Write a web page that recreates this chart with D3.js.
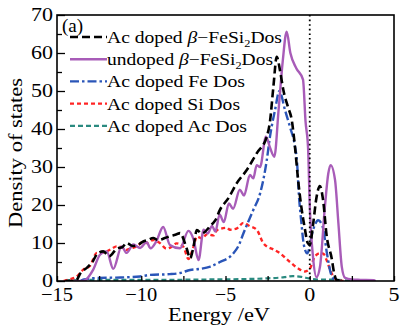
<!DOCTYPE html>
<html><head><meta charset="utf-8">
<script src="https://cdn.jsdelivr.net/npm/d3@7"></script>
<style>body{margin:0;background:#fff}svg text{font-family:"Liberation Serif","DejaVu Serif","Times New Roman",serif;fill:#000}</style>
</head><body>
<svg id="c" width="400" height="326"></svg>
<script>
const xTicks = [-15, -10, -5, 0, 5];
const yTicks = [0, 10, 20, 30, 40, 50, 60, 70];
const seriesNames = ["Ac doped β−FeSi₂Dos", "undoped β−FeSi₂Dos", "Ac doped Fe Dos", "Ac doped Si Dos", "Ac doped Ac Dos"];

const acTotal = [[-14.5,0],[-13.9,0],[-13.6,2.1],[-13.2,3.6],[-12.9,5],[-12.6,7.2],[-12.25,7.8],[-11.9,6.5],[-11.46,8.5],[-11.1,9],[-10.87,10],[-10.5,9.2],[-10.2,9.5],[-9.88,10.4],[-9.6,10.8],[-9.29,11.3],[-9,10.8],[-8.6,11.3],[-8.3,11.8],[-7.9,12.3],[-7.7,12.6],[-7.3,8.5],[-7.1,6],[-6.9,9],[-6.7,13.4],[-6.4,12.5],[-5.9,14.5],[-5.6,16],[-5.33,18.7],[-4.8,22],[-4.34,25.7],[-3.74,29.2],[-3.15,33.6],[-2.55,38],[-2.36,42],[-2.16,51],[-1.96,59],[-1.75,55],[-1.57,50.3],[-1.3,45.9],[-1.07,42.4],[-0.87,35],[-0.7,27],[-0.5,19.5],[-0.3,14],[-0.12,10],[0.0,9.5],[0.2,15],[0.4,22],[0.6,25],[0.8,21],[1.0,12],[1.3,6],[1.45,2],[1.6,0.3],[2,0]];
const undoped = [[-14,0],[-13.45,0],[-12.85,3],[-12.45,6.9],[-12.05,7.8],[-11.66,3.2],[-11.16,9.1],[-10.87,7.4],[-10.47,9.6],[-10.07,8.7],[-9.68,10.2],[-9.45,8.6],[-9.1,10.5],[-8.7,14.2],[-8.3,9.5],[-7.7,8.6],[-7.2,13.2],[-6.9,11],[-6.6,5.5],[-6.3,13.5],[-6.05,12.5],[-5.8,14.5],[-5.6,13],[-5.35,17.5],[-5.1,15.5],[-4.8,20.4],[-4.55,19],[-4.15,24],[-3.9,22.5],[-3.55,27.9],[-3.35,27],[-3.15,30.5],[-2.95,30],[-2.6,38],[-2.35,35],[-2.1,32.7],[-1.85,45],[-1.6,58],[-1.37,65.6],[-1.15,60],[-0.8,56],[-0.4,53],[-0.25,42],[-0.1,35],[0.0,20],[0.2,6],[0.4,1],[0.61,3.8],[0.9,19.6],[1.1,28.3],[1.24,30.5],[1.5,26.6],[1.7,15.2],[1.9,3.8],[2.1,0.8],[2.5,0.4],[3,0.3],[3.8,0.2],[3.9,0]];
const feDos = [[-13.6,0],[-13.4,0.4],[-12.6,0.8],[-11.5,0.9],[-10.07,1.2],[-9.48,1.6],[-8.3,1.8],[-7.7,2.1],[-7.1,2.9],[-6.5,3.2],[-5.9,3.8],[-5.33,5],[-4.73,6.4],[-4.53,7.3],[-4.2,9.5],[-3.94,12.5],[-3.35,18.7],[-2.95,23],[-2.55,31.8],[-2.36,38],[-2.06,45],[-1.8,50],[-1.47,45],[-1.17,40.5],[-0.9,36],[-0.75,31],[-0.65,23],[-0.5,15.5],[-0.35,9.5],[-0.15,7.3],[0.2,13.5],[0.5,16],[0.75,14.5],[1.05,6.5],[1.25,2],[1.5,0.3],[1.8,0]];
const siDos = [[-14.6,0],[-14.2,0.5],[-13.83,1.2],[-13.44,3],[-13.04,4],[-12.64,7.4],[-12.3,7.5],[-12.05,7.8],[-11.75,8.5],[-11.46,9.1],[-11.1,8.8],[-10.87,8.2],[-10.6,8.6],[-10.27,9.1],[-9.88,10.3],[-9.68,10],[-9.29,10.8],[-8.9,10],[-8.5,8.5],[-8.2,9],[-7.9,9.9],[-7.5,9],[-7.2,5.8],[-6.9,9],[-6.7,11.7],[-6.4,11.2],[-6.1,12.3],[-5.72,12],[-5.5,13.4],[-4.93,14],[-4.73,13.5],[-4.34,13.8],[-3.94,15.3],[-3.55,14.4],[-3.15,13.5],[-2.76,10],[-2.55,9.1],[-2.16,8.3],[-1.77,7.3],[-1.17,5],[-0.58,3],[-0.28,2.5],[0.0,3.2],[0.31,6.5],[0.6,7.3],[0.8,7.2],[1.0,5.5],[1.2,3],[1.4,1.2],[1.6,0.2],[2,0]];
const acDos = [[-14.5,0.2],[-12,0.3],[-9,0.3],[-6,0.4],[-4,0.5],[-2.5,0.7],[-1.5,1.0],[-1,1.3],[-0.5,1.1],[0,0.6],[0.5,0.4],[1,0.4],[1.5,0.3],[2,0.2],[2.5,0]];

const series = [acTotal, undoped, feDos, siDos, acDos];
const colors = ["#000000", "#a85cb8", "#2a55b8", "#ff2424", "#2a8a80"];
const dashes = ["8,4", null, "9,3,2.5,3", "4,3", "5,3"];
const widths = [2.6, 2.4, 2.4, 2.4, 2.2];

const svg = d3.select("#c");
const L = 57, R = 394, T = 15, B = 281;
const x = d3.scaleLinear().domain([-15, 5]).range([L, R]);
const y = d3.scaleLinear().domain([0, 70]).range([B, T]);

svg.append("clipPath").attr("id","clip").append("rect").attr("x",L).attr("y",T).attr("width",R-L).attr("height",B-T);

const line = d3.line().x(d=>x(d[0])).y(d=>y(d[1])).curve(d3.curveMonotoneX);
const g = svg.append("g").attr("clip-path","url(#clip)");
[4,3,2,1,0].forEach(i=>{
  g.append("path").attr("d", line(series[i])).attr("fill","none")
   .attr("stroke", colors[i]).attr("stroke-width", widths[i])
   .attr("stroke-dasharray", dashes[i]).attr("stroke-linejoin","round");
});

svg.append("line").attr("x1",x(0)).attr("x2",x(0)).attr("y1",T).attr("y2",B)
  .attr("stroke","#000").attr("stroke-width",1.8).attr("stroke-dasharray","1.6,3");

const xAxis = d3.axisBottom(x).tickValues(d3.range(-15, 5.01, 2.5)).tickSizeInner(-5).tickSizeOuter(0).tickFormat("");
svg.append("g").attr("transform",`translate(0,${B})`).call(xAxis)
  .call(s=>s.select(".domain").remove()).selectAll("line").attr("stroke","#000").attr("stroke-width",1.3);
const yAxis = d3.axisLeft(y).tickValues(d3.range(0, 70.01, 5)).tickSizeOuter(0).tickFormat("");
const ya = svg.append("g").attr("transform",`translate(${L},0)`).call(yAxis);
ya.select(".domain").remove();
ya.selectAll(".tick line").attr("x2", d=> d%10===0 ? 8 : 5).attr("stroke","#000").attr("stroke-width",1.3);

svg.append("rect").attr("x",L).attr("y",T).attr("width",R-L).attr("height",B-T)
  .attr("fill","none").attr("stroke","#000").attr("stroke-width",1.6);

const numW = d => String(Math.abs(d)).length*11 + (d<0 ? 10 : 0);
svg.selectAll(".xl").data(xTicks).enter().append("text")
  .attr("x", d=>x(d)).attr("y", 301).attr("text-anchor","middle").attr("font-size",19)
  .attr("textLength", numW).attr("lengthAdjust","spacingAndGlyphs")
  .text(d=> d<0 ? "−"+Math.abs(d) : d);
svg.selectAll(".yl").data(yTicks).enter().append("text")
  .attr("x", 53).attr("y", d=>y(d)+6).attr("text-anchor","end").attr("font-size",19)
  .attr("textLength", numW).attr("lengthAdjust","spacingAndGlyphs")
  .text(d=>d);

svg.append("text").attr("x",219).attr("y",321).attr("text-anchor","middle").attr("font-size",19)
  .attr("textLength",102).attr("lengthAdjust","spacingAndGlyphs").text("Energy /eV");
svg.append("text").attr("transform","translate(22,153) rotate(-90)").attr("text-anchor","middle").attr("font-size",19)
  .attr("textLength",150).attr("lengthAdjust","spacingAndGlyphs").text("Density of states");

const legendW = [175, 166, 138, 133, 140];
const lg = svg.append("g");
seriesNames.forEach((name,i)=>{
  const by = 43 + i*22.2;
  lg.append("line").attr("x1",70).attr("x2",107).attr("y1",by-6).attr("y2",by-6)
    .attr("stroke",colors[i]).attr("stroke-width",widths[i]).attr("stroke-dasharray",dashes[i]);
  const t = lg.append("text").attr("x",107).attr("y",by).attr("font-size",17.5)
    .attr("textLength",legendW[i]).attr("lengthAdjust","spacingAndGlyphs");
  if (name.includes("β")) {
    const pre = name.split("β")[0];
    t.append("tspan").text(pre);
    t.append("tspan").attr("font-style","italic").text("β");
    t.append("tspan").text("−FeSi");
    t.append("tspan").attr("font-size",11).attr("dy",4).text("2");
    t.append("tspan").attr("dy",-4).text("Dos");
  } else {
    t.text(name);
  }
});

svg.append("rect").attr("x",61).attr("y",17).attr("width",29).attr("height",15).attr("fill","#fff");
svg.append("text").attr("x",62).attr("y",32).attr("font-size",19).text("(a)");
</script>
</body></html>
